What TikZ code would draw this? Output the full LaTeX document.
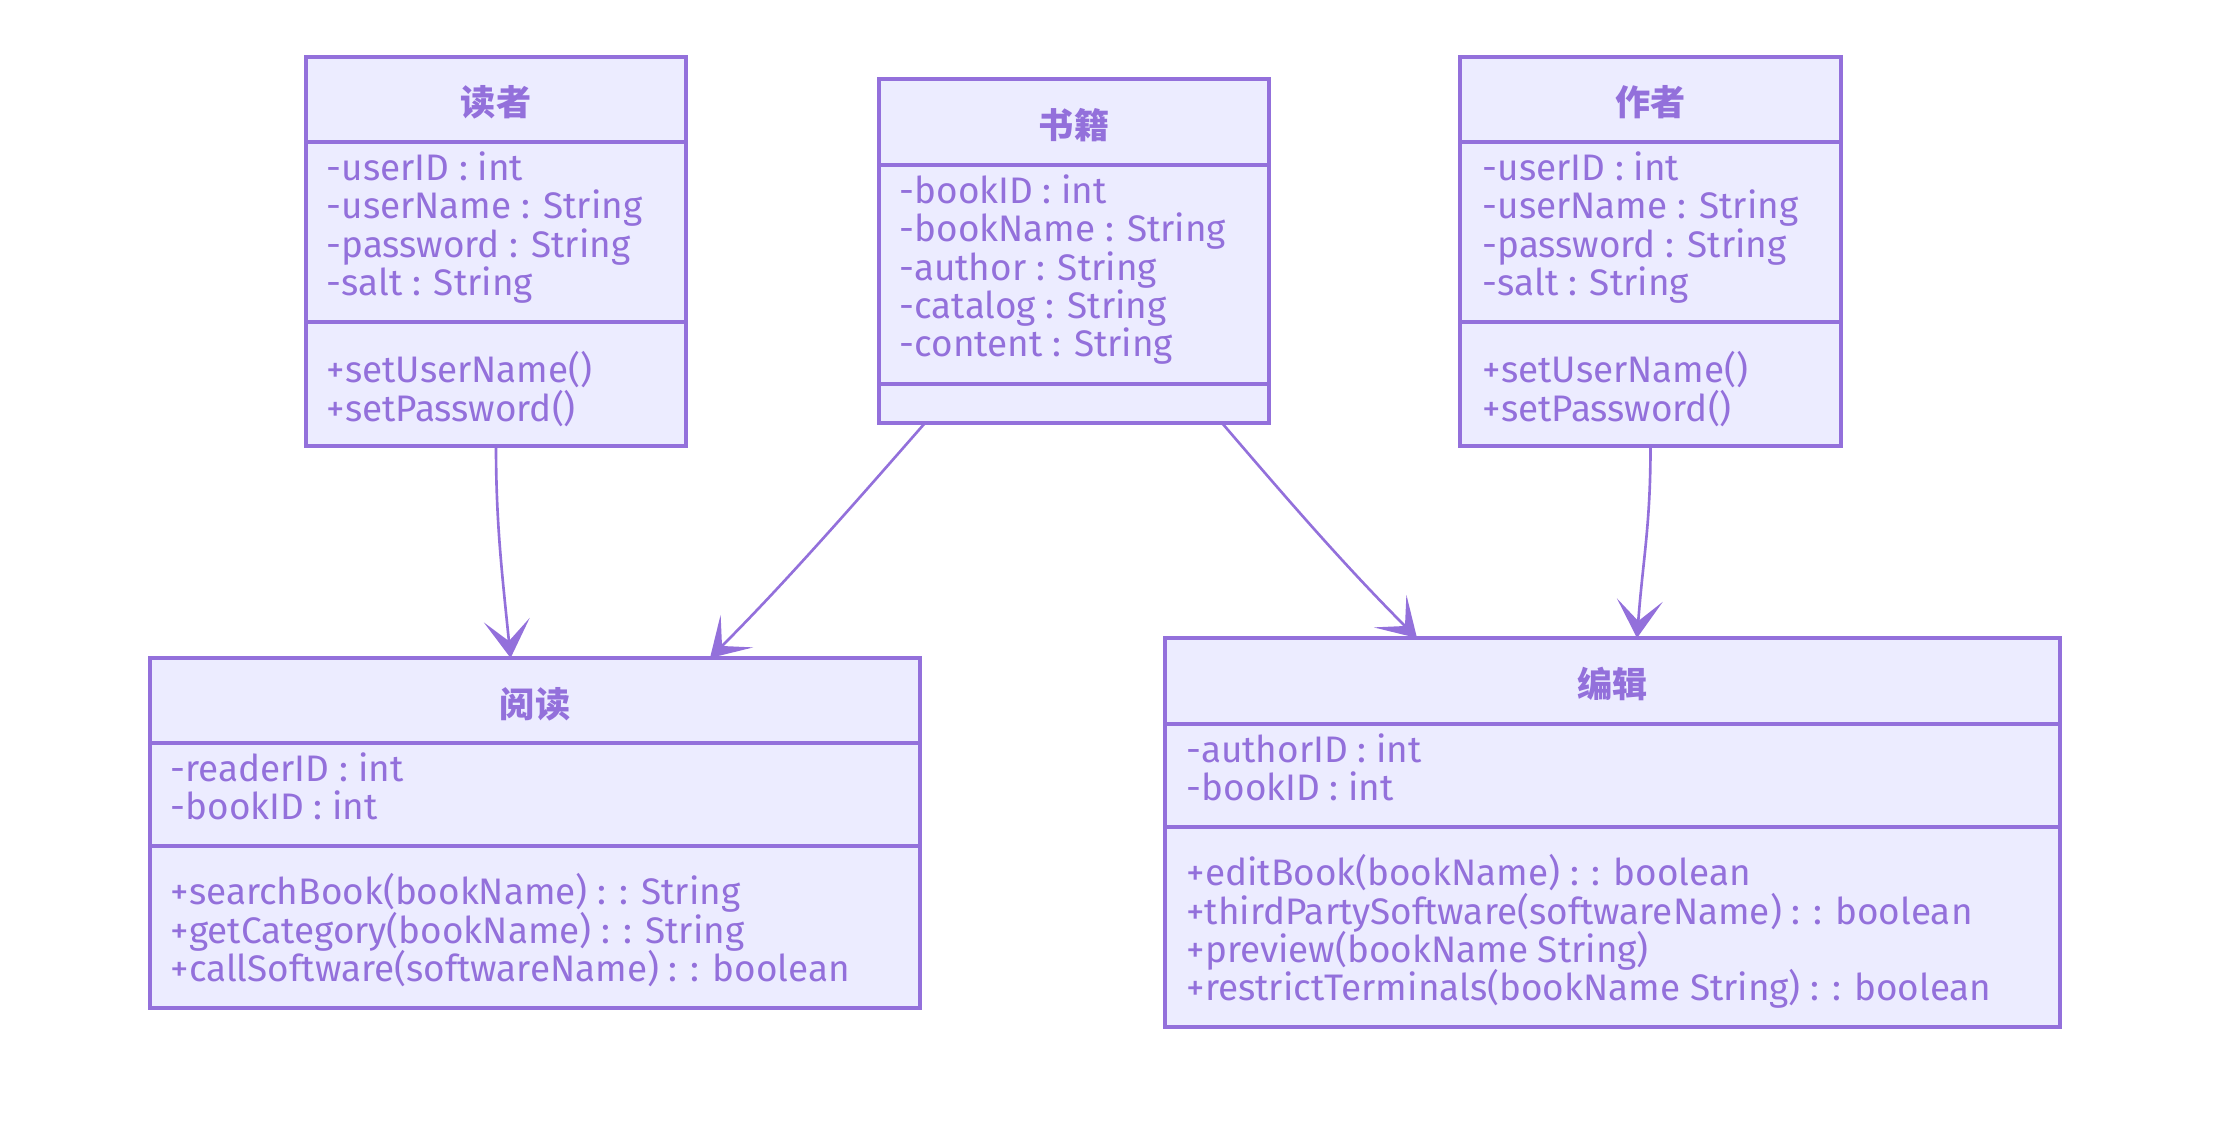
\documentclass[tikz,border=0pt]{standalone}
\usepackage{fontspec}
\setmainfont{Fira Sans}
\newfontfamily\cjkfont{Noto Sans CJK SC}
\usetikzlibrary{arrows.meta}

\definecolor{umlpurple}{HTML}{9370DB}
\definecolor{umlfill}{HTML}{ECECFF}

\tikzset{
  classbox/.style={draw=umlpurple, fill=umlfill, line width=0.9pt, inner sep=0pt, outer sep=0pt, anchor=north west},
  divider/.style={draw=umlpurple, line width=0.9pt},
  classtitle/.style={text=umlpurple, font=\cjkfont\bfseries\fontsize{10}{12}\selectfont},
  members/.style={text=umlpurple, font={\fontsize{10.5}{10.9}\selectfont\lineskiplimit=-20pt}, align=left, anchor=north west, inner sep=0pt},
  depend/.style={draw=umlpurple, line width=0.75pt, -{Stealth[length=3.8mm, width=4.6mm, inset=2.1mm]}}
}

\begin{document}
\begin{tikzpicture}[x=0.1mm, y=-0.1mm]

    % page
    \useasboundingbox (0,0) rectangle (2224,1130);

    % 读者
    \node[classbox, minimum width=38mm, minimum height=38.9mm] (reader) at (306,57) {};
    \draw[divider] (reader.west |- 0,142) -- (reader.east |- 0,142);
    \draw[divider] (reader.west |- 0,322) -- (reader.east |- 0,322);
    \node[classtitle] (reader-title) at (reader.north |- 0,102) {读者};
    \node[members] (reader-attr) at (326,151) {-userID : int\\-userName : String\\-password : String\\-salt : String};
    \node[members] (reader-ops) at (326,351) {+setUserName()\\+setPassword()};

    % 书籍
    \node[classbox, minimum width=39mm, minimum height=34.4mm] (book) at (879,79) {};
    \draw[divider] (book.west |- 0,165) -- (book.east |- 0,165);
    \draw[divider] (book.west |- 0,384) -- (book.east |- 0,384);
    \node[classtitle] (book-title) at (book.north |- 0,125) {书籍};
    \node[members] (book-attr) at (899,174) {-bookID : int\\-bookName : String\\-author : String\\-catalog : String\\-content : String};

    % 作者
    \node[classbox, minimum width=38.1mm, minimum height=38.9mm] (author) at (1460,57) {};
    \draw[divider] (author.west |- 0,142) -- (author.east |- 0,142);
    \draw[divider] (author.west |- 0,322) -- (author.east |- 0,322);
    \node[classtitle] (author-title) at (author.north |- 0,102) {作者};
    \node[members] (author-attr) at (1482,151) {-userID : int\\-userName : String\\-password : String\\-salt : String};
    \node[members] (author-ops) at (1482,351) {+setUserName()\\+setPassword()};

    % 阅读
    \node[classbox, minimum width=77mm, minimum height=35mm] (reading) at (150,658) {};
    \draw[divider] (reading.west |- 0,743) -- (reading.east |- 0,743);
    \draw[divider] (reading.west |- 0,846) -- (reading.east |- 0,846);
    \node[classtitle] (reading-title) at (reading.north |- 0,704) {阅读};
    \node[members] (reading-attr) at (170,752) {-readerID : int\\-bookID : int};
    \node[members] (reading-ops) at (170,873) {+searchBook(bookName) : : String\\+getCategory(bookName) : : String\\+callSoftware(softwareName) : : boolean};

    % 编辑
    \node[classbox, minimum width=89.5mm, minimum height=38.9mm] (editing) at (1165,638) {};
    \draw[divider] (editing.west |- 0,724) -- (editing.east |- 0,724);
    \draw[divider] (editing.west |- 0,827) -- (editing.east |- 0,827);
    \node[classtitle] (editing-title) at (editing.north |- 0,684) {编辑};
    \node[members] (editing-attr) at (1186,733) {-authorID : int\\-bookID : int};
    \node[members] (editing-ops) at (1186,854) {+editBook(bookName) : : boolean\\+thirdPartySoftware(softwareName) : : boolean\\+preview(bookName String)\\+restrictTerminals(bookName String) : : boolean};

    % dependencies
    \draw[depend] (reader.south) .. controls +(0,80) and +(-8,-80) .. ([xshift=-2.44mm]reading.north);
    \draw[depend] ([xshift=-14.9mm]book.south) .. controls +(-70,80) and +(75,-75) .. ([xshift=17.5mm]reading.north);
    \draw[depend] ([xshift=14.8mm]book.south) .. controls +(60,70) and +(-75,-75) .. ([xshift=-19.55mm]editing.north);
    \draw[depend] (author.south) .. controls +(0,80) and +(6,-80) .. ([xshift=2.45mm]editing.north);

\end{tikzpicture}
\end{document}
